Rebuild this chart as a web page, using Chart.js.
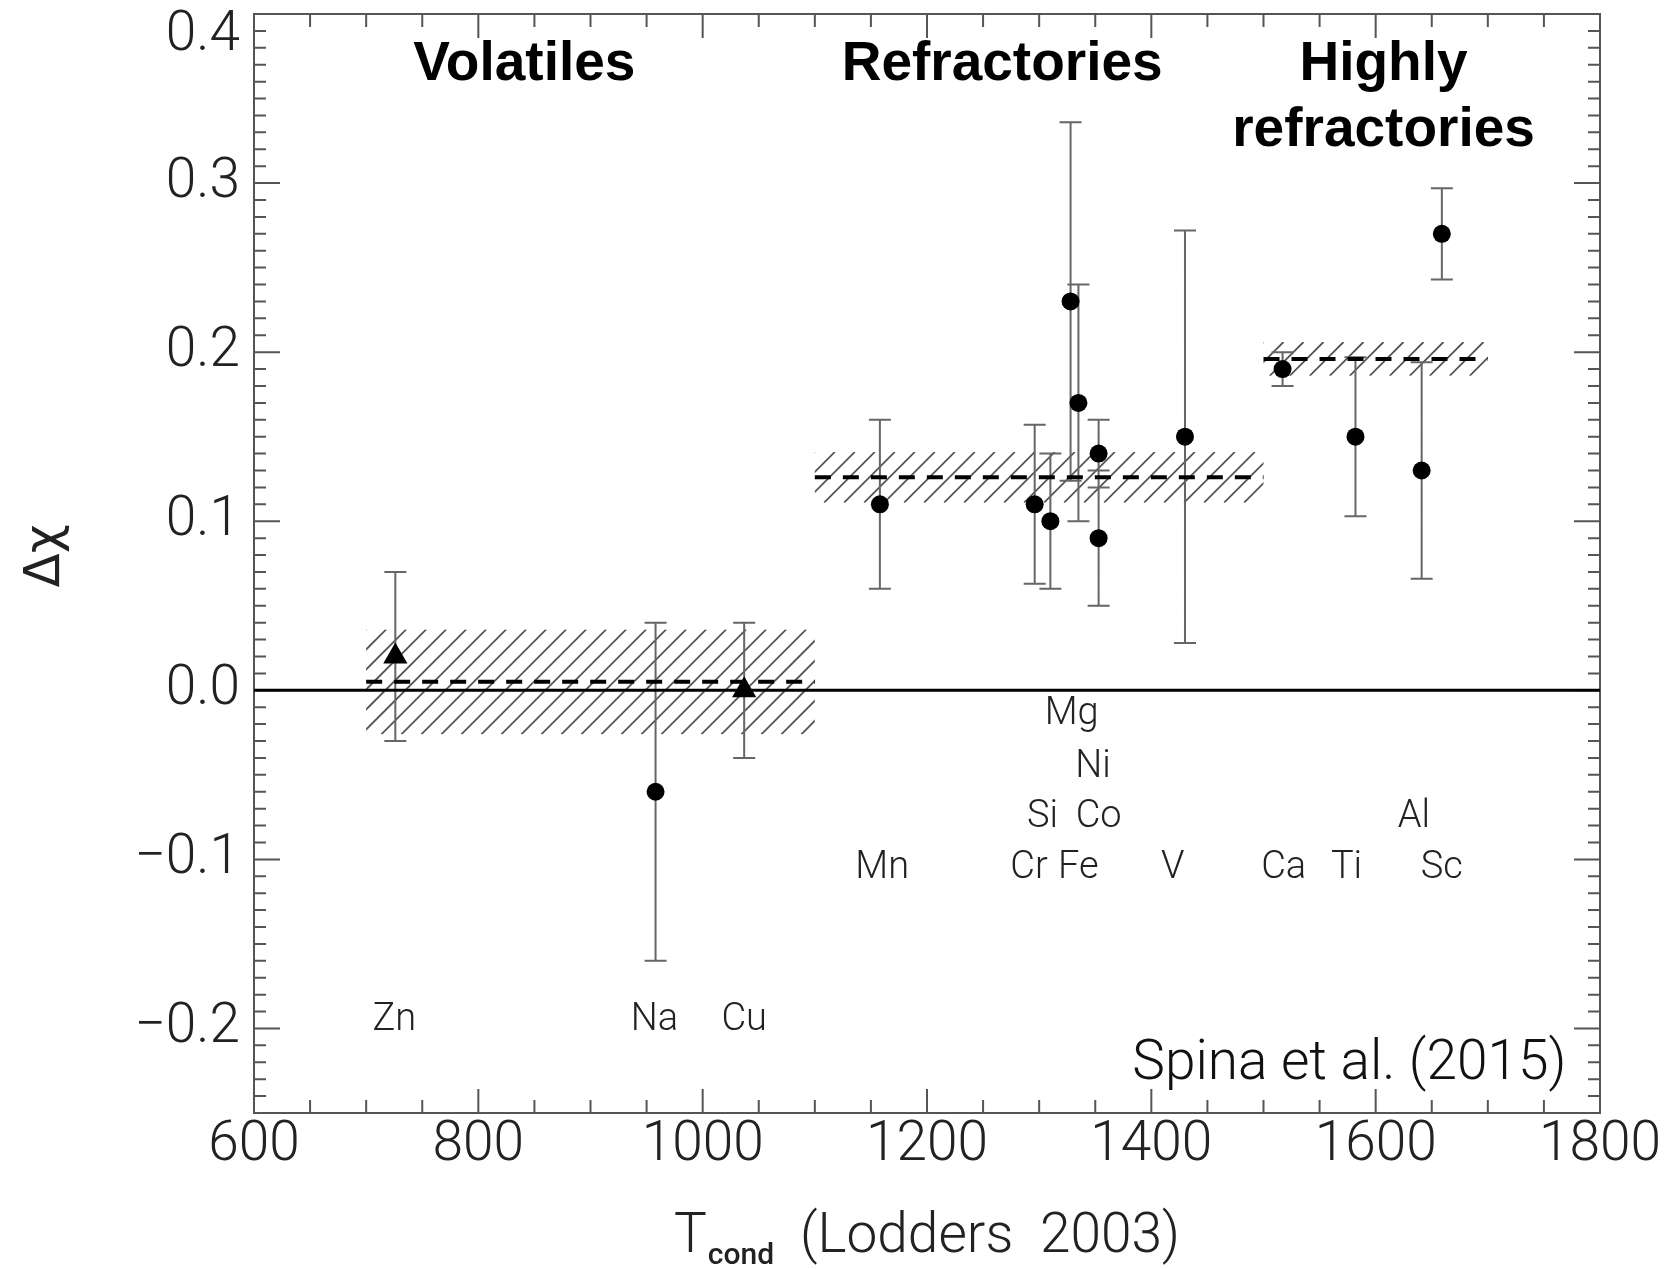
<!DOCTYPE html>
<html>
<head>
<meta charset="utf-8">
<script src="https://cdn.jsdelivr.net/npm/chart.js@4.4.0/dist/chart.umd.min.js"></script>
<style>
  html, body { margin: 0; padding: 0; background: #fff; }
  canvas { display: block; }
</style>
</head>
<body>
<canvas id="chart" width="1673" height="1269"></canvas>
<script>
// condensation temperature (K), abundance difference and 1-sigma error per element
const elements = ['Zn', 'Na', 'Cu', 'Mn', 'Cr', 'Si', 'Mg', 'Fe', 'Co', 'Ni', 'V', 'Ca', 'Ti', 'Al', 'Sc'];
const tcond = [726, 958, 1037, 1158, 1296, 1310, 1328, 1335, 1353, 1353, 1430, 1517, 1582, 1641, 1659];
const delta = [0.02, -0.06, 0.0, 0.11, 0.11, 0.10, 0.23, 0.17, 0.14, 0.09, 0.15, 0.19, 0.15, 0.13, 0.27];
const errs = [0.05, 0.10, 0.04, 0.05, 0.047, 0.04, 0.106, 0.07, 0.02, 0.04, 0.122, 0.01, 0.047, 0.064, 0.027];
const markers = ['triangle', 'circle', 'triangle', 'circle', 'circle', 'circle', 'circle', 'circle',
                 'circle', 'circle', 'circle', 'circle', 'circle', 'circle', 'circle'];

// mean of each group with its uncertainty (hatched band)
const groupNames = ['Volatiles', 'Refractories', 'Highly', 'refractories'];
const groupX = [841, 1267, 1607, 1607];
const groupY = [0.37, 0.37, 0.37, 0.331];
const bandStart = [700, 1100, 1500];
const bandEnd = [1100, 1500, 1700];
const bandMean = [0.005, 0.126, 0.196];
const bandErr = [0.031, 0.015, 0.01];

// element names written under the zero line
const labelText = ['Mg', 'Ni', 'Si', 'Co', 'Al', 'Mn', 'Cr', 'Fe', 'V', 'Ca', 'Ti', 'Sc', 'Zn', 'Na', 'Cu'];
const labelX = [1329, 1348, 1303, 1353, 1634, 1160, 1291, 1335, 1419, 1518, 1574, 1659, 725, 957, 1037];
const labelY = [-0.0145, -0.0455, -0.0755, -0.0755, -0.0755, -0.1055, -0.1055, -0.1055, -0.1055, -0.1055, -0.1055, -0.1055, -0.1955, -0.1955, -0.1955];

const xTicks = [600, 800, 1000, 1200, 1400, 1600, 1800];
const yTicks = [-0.2, -0.1, 0.0, 0.1, 0.2, 0.3, 0.4];

const tickFont = '"Roboto", "Liberation Sans", sans-serif';

const decor = {
  id: 'decor',
  beforeDatasetsDraw(chart) {
    const { ctx, chartArea: a, scales: { x, y } } = chart;
    // frame with inward ticks on all four sides
    ctx.save();
    ctx.strokeStyle = '#555';
    ctx.lineWidth = 2;
    ctx.strokeRect(a.left, a.top, a.right - a.left, a.bottom - a.top);
    ctx.beginPath();
    for (let v = 600; v <= 1800; v += 50) {
      const p = x.getPixelForValue(v);
      const len = v % 200 === 0 ? 24 : 13;
      ctx.moveTo(p, a.bottom); ctx.lineTo(p, a.bottom - len);
      ctx.moveTo(p, a.top); ctx.lineTo(p, a.top + len);
    }
    for (let k = -25; k <= 40; k++) {
      const p = y.getPixelForValue(k / 100);
      const len = k % 10 === 0 ? 26 : 12;
      ctx.moveTo(a.left, p); ctx.lineTo(a.left + len, p);
      ctx.moveTo(a.right, p); ctx.lineTo(a.right - len, p);
    }
    ctx.stroke();
    ctx.restore();

    // hatched bands
    for (let i = 0; i < bandStart.length; i++) {
      const l = x.getPixelForValue(bandStart[i]);
      const r = x.getPixelForValue(bandEnd[i]);
      const t = y.getPixelForValue(bandMean[i] + bandErr[i]);
      const b = y.getPixelForValue(bandMean[i] - bandErr[i]);
      const h = b - t;
      ctx.save();
      ctx.beginPath();
      ctx.rect(l, t, r - l, h);
      ctx.clip();
      ctx.strokeStyle = '#555';
      ctx.lineWidth = 1.8;
      ctx.beginPath();
      for (let sx = l - h; sx < r; sx += 20) {
        ctx.moveTo(sx, b);
        ctx.lineTo(sx + h, t);
      }
      ctx.stroke();
      ctx.restore();
    }
    // error bars
    ctx.save();
    ctx.strokeStyle = '#666';
    ctx.lineWidth = 2;
    ctx.beginPath();
    for (let i = 0; i < tcond.length; i++) {
      const cx = x.getPixelForValue(tcond[i]);
      const hi = y.getPixelForValue(delta[i] + errs[i]);
      const lo = y.getPixelForValue(delta[i] - errs[i]);
      ctx.moveTo(cx, hi); ctx.lineTo(cx, lo);
      ctx.moveTo(cx - 11, hi); ctx.lineTo(cx + 11, hi);
      ctx.moveTo(cx - 11, lo); ctx.lineTo(cx + 11, lo);
    }
    ctx.stroke();
    ctx.restore();
  },
  afterDraw(chart) {
    const { ctx, chartArea: a, scales: { x, y } } = chart;
    ctx.save();
    // group names
    ctx.fillStyle = '#000';
    ctx.textAlign = 'center';
    ctx.textBaseline = 'middle';
    ctx.font = 'bold 55px "Liberation Sans", Arial, sans-serif';
    groupNames.forEach((g, i) => ctx.fillText(g, x.getPixelForValue(groupX[i]), y.getPixelForValue(groupY[i])));

    // element names
    ctx.fillStyle = '#222';
    ctx.font = '300 38px ' + tickFont;
    labelText.forEach((s, i) => ctx.fillText(s, x.getPixelForValue(labelX[i]), y.getPixelForValue(labelY[i])));

    // reference
    ctx.fillStyle = '#111';
    ctx.textAlign = 'right';
    ctx.font = '300 55px ' + tickFont;
    ctx.fillText('Spina et al. (2015)', x.getPixelForValue(1770), y.getPixelForValue(-0.222));

    // x axis title with subscript
    const cx = (a.left + a.right) / 2;
    const ty = 1238;
    ctx.fillStyle = '#222';
    ctx.textAlign = 'left';
    ctx.font = '300 55px ' + tickFont;
    const wT = ctx.measureText('T').width;
    const rest = '  (Lodders  2003)';
    const wR = ctx.measureText(rest).width;
    ctx.font = '500 30px ' + tickFont;
    const wS = ctx.measureText('cond').width;
    let sx = cx - (wT + wS + wR) / 2;
    ctx.font = '300 55px ' + tickFont;
    ctx.fillText('T', sx, ty);
    ctx.font = '500 30px ' + tickFont;
    ctx.fillText('cond', sx + wT + 1, ty + 18);
    ctx.font = '300 55px ' + tickFont;
    ctx.fillText(rest, sx + wT + wS, ty);

    // y axis title
    ctx.translate(46, 556);
    ctx.rotate(-Math.PI / 2);
    ctx.textAlign = 'center';
    ctx.font = '50px "DejaVu Sans", sans-serif';
    ctx.fillText('\u0394\u03C7', 0, 0);
    ctx.restore();
  }
};

new Chart(document.getElementById('chart'), {
  data: {
    datasets: [
      {
        type: 'scatter',
        data: tcond.map((t, i) => ({ x: t, y: delta[i] })),
        pointStyle: markers,
        pointRadius: markers.map(m => m === 'triangle' ? 14 : 9),
        backgroundColor: '#000',
        borderColor: '#000',
        borderWidth: 0
      },
      ...bandStart.map((s, i) => ({
        type: 'line',
        data: [{ x: s, y: bandMean[i] }, { x: bandEnd[i], y: bandMean[i] }],
        borderColor: '#000',
        borderWidth: 4,
        borderDash: [16, 12],
        pointRadius: 0
      })),
      {
        type: 'line',
        data: [{ x: 600, y: 0 }, { x: 1800, y: 0 }],
        borderColor: '#000',
        borderWidth: 3,
        pointRadius: 0
      }
    ]
  },
  options: {
    responsive: false,
    animation: false,
    devicePixelRatio: 1,
    layout: { padding: { left: 0, right: 73, top: 11, bottom: 0 } },
    plugins: { legend: { display: false }, tooltip: { enabled: false } },
    scales: {
      x: {
        type: 'linear',
        min: 600,
        max: 1800,
        afterBuildTicks: s => { s.ticks = xTicks.map(v => ({ value: v })); },
        afterFit: s => { s.height = 1269 - 1113; s.paddingLeft = 0; s.paddingRight = 0; },
        grid: { display: false, drawTicks: false },
        border: { display: false },
        ticks: {
          padding: 6,
          maxRotation: 0,
          autoSkip: false,
          color: '#222',
          font: { family: tickFont, size: 55, weight: 300, lineHeight: 1 },
          callback: v => String(v)
        }
      },
      y: {
        type: 'linear',
        min: -0.25,
        max: 0.4,
        afterBuildTicks: s => { s.ticks = yTicks.map(v => ({ value: v })); },
        afterFit: s => { s.width = 254; s.paddingTop = 0; s.paddingBottom = 0; },
        grid: { display: false, drawTicks: false },
        border: { display: false },
        ticks: {
          padding: 14,
          color: '#222',
          font: { family: tickFont, size: 55, weight: 300, lineHeight: 0.8 },
          callback: v => {
            if (Math.abs(v - 0.4) < 1e-9) return ['', '0.4'];
            return v < -1e-9 ? '\u2212' + Math.abs(v).toFixed(1) : Math.abs(v).toFixed(1);
          }
        }
      }
    }
  },
  plugins: [decor]
});
</script>
</body>
</html>
